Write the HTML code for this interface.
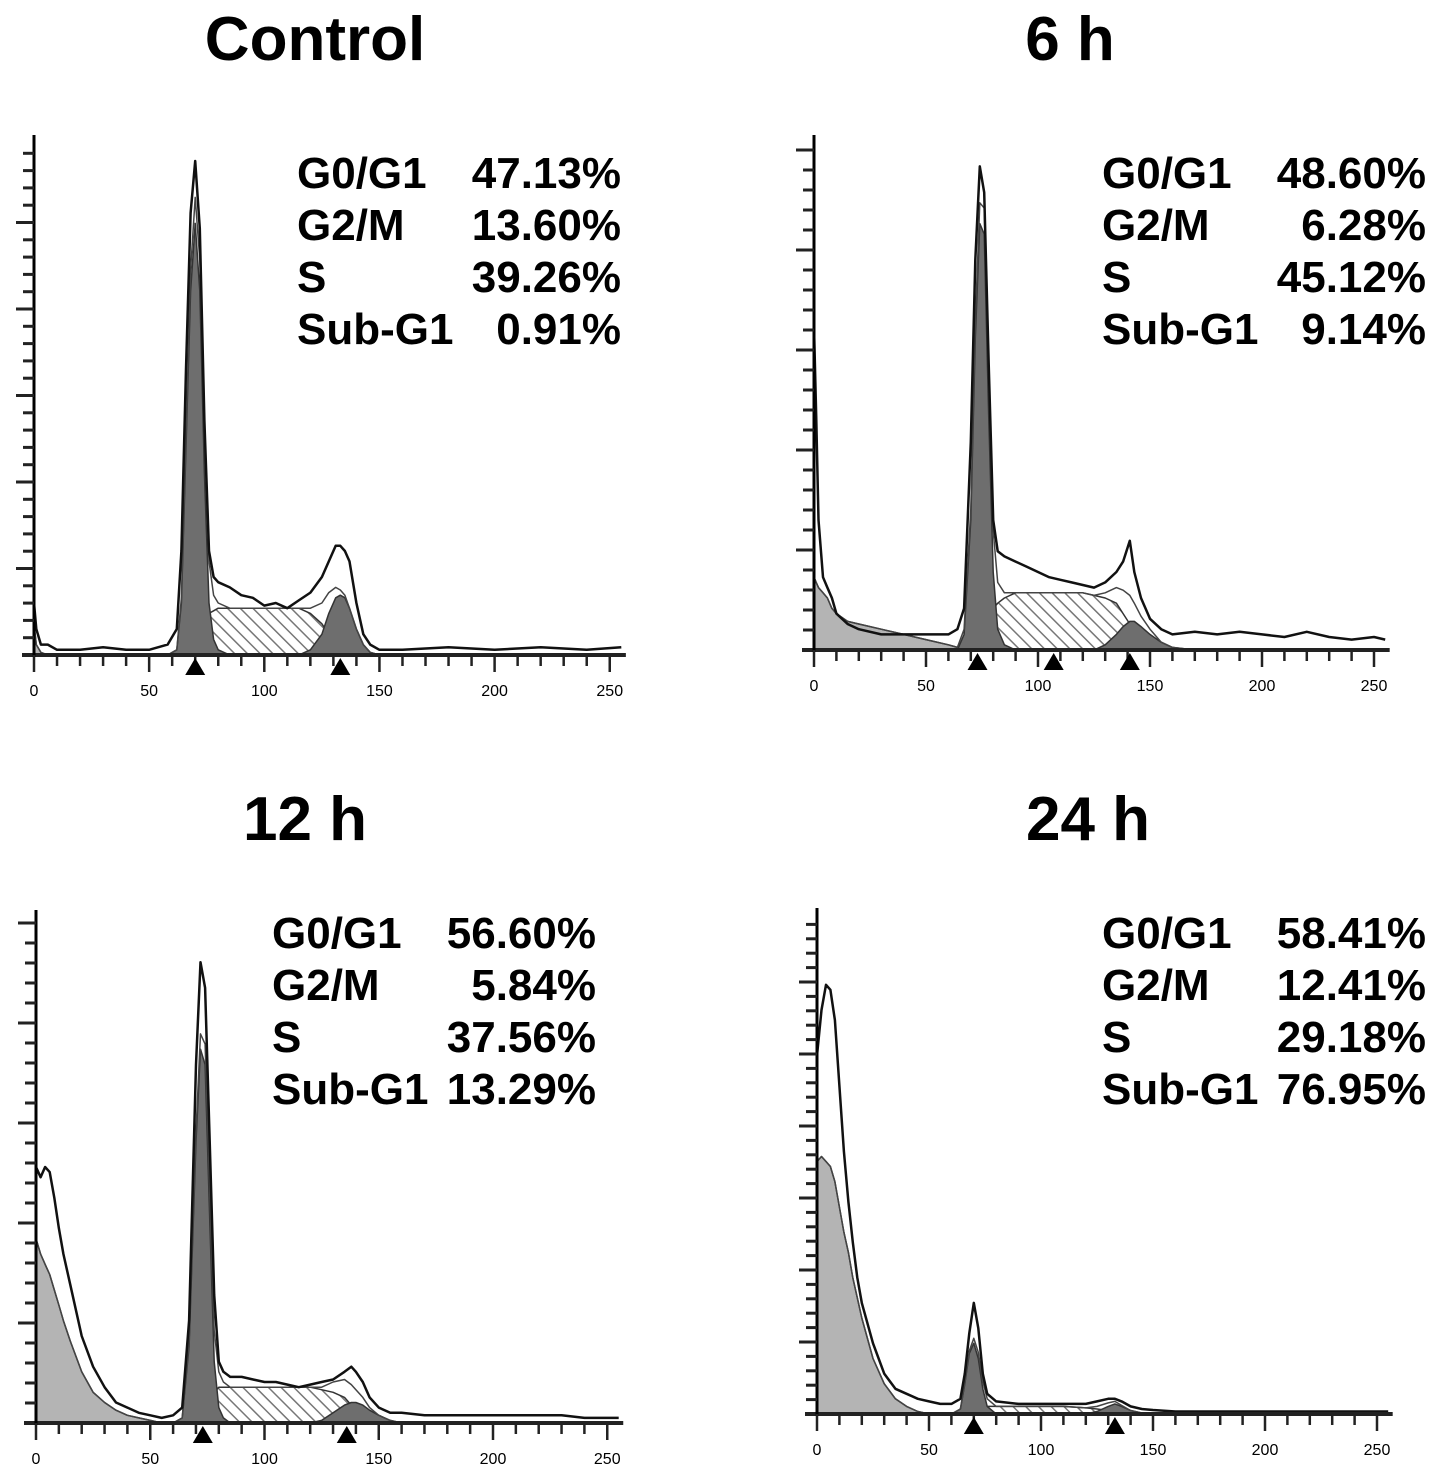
<!DOCTYPE html>
<html><head><meta charset="utf-8"><style>
html,body{margin:0;padding:0;background:#fff;}
svg{display:block;}
.title{font-family:"Liberation Sans",sans-serif;font-weight:bold;font-size:62px;fill:#000;}
.stat{font-family:"Liberation Sans",sans-serif;font-weight:bold;font-size:44px;fill:#000;}
.tick{font-family:"Liberation Sans",sans-serif;font-size:16px;fill:#000;}
</style></head><body>
<svg id="fig" width="1441" height="1481" viewBox="0 0 1441 1481" xmlns="http://www.w3.org/2000/svg">
<defs>
<pattern id="hatch" patternUnits="userSpaceOnUse" width="9" height="9" patternTransform="rotate(-45)">
<rect width="9" height="9" fill="#fff"/><line x1="0" y1="0" x2="0" y2="9" stroke="#777" stroke-width="3"/>
</pattern>
</defs>
</svg>
<script>
// ---- Control ----
const ctrlX=[0,1,3,6,10,20,30,40,50,58,62,64,66,68,70,72,74,76,78,80,85,90,95,100,105,110,115,120,125,128,131,133,135,137,140,143,146,150,160,180,200,220,240,255];
const ctrlTotal=[10,5,2,2,1,1,1.5,1,1,2,5,20,55,85,95,82,45,20,15,14,13,11.5,11,9.5,10,9,10.5,12,15,18,21,21,20,18,10,4,2,1,1,1.5,1,1.5,1,1.5];
const ctrlG1=[0,0,0,0,0,0,0,0,0,0,1,10,40,70,83,70,35,10,3,1,0,0,0,0,0,0,0,0,0,0,0,0,0,0,0,0,0,0,0,0,0,0,0,0];
const ctrlS=[0,0,0,0,0,0,0,0,0,0,0,1,2,4,5,6,7,8,8.5,9,9,9,9,9,9,9,9,8,6,4,2,1,0.5,0,0,0,0,0,0,0,0,0,0,0];
const ctrlG2=[0,0,0,0,0,0,0,0,0,0,0,0,0,0,0,0,0,0,0,0,0,0,0,0,0,0,0,1,4,8,11,11.5,11,9,5,2,0.5,0,0,0,0,0,0,0];
const ctrlSub=[6,2,0.5,0,0,0,0,0,0,0,0,0,0,0,0,0,0,0,0,0,0,0,0,0,0,0,0,0,0,0,0,0,0,0,0,0,0,0,0,0,0,0,0,0];
const ctrlMarks=[70,133];
const ctrlLabels=["G0/G1","G2/M","S","Sub-G1"];
const ctrlValues=["47.13%","13.60%","39.26%","0.91%"];
// ---- 6 h ----
const h6X=[0,1,2,4,6,8,10,15,20,30,40,50,60,64,67,70,72,74,76,78,80,82,85,90,95,100,105,110,115,120,125,130,135,138,141,143,146,150,155,160,170,180,190,200,210,220,230,240,250,255];
const h6Total=[62,45,25,14,12,10,7,5,4,3,3,3,3,4,8,40,75,93,88,55,25,19,18,17,16,15,14,13.5,13,12.5,12,13,15,17,21,15,10,6,4,3,3.5,3,3.5,3,2.5,3.5,2.5,2,2.5,2];
const h6G1=[0,0,0,0,0,0,0,0,0,0,0,0,0,0,3,25,60,82,80,45,15,4,1,0,0,0,0,0,0,0,0,0,0,0,0,0,0,0,0,0,0,0,0,0,0,0,0,0,0,0];
const h6S=[0,0,0,0,0,0,0,0,0,0,0,0,0,0,1,2,3,4,5,6,8,9,10,11,11,11,11,11,11,11,10.5,10,9,7,5,3.5,2,1,0,0,0,0,0,0,0,0,0,0,0,0];
const h6G2=[0,0,0,0,0,0,0,0,0,0,0,0,0,0,0,0,0,0,0,0,0,0,0,0,0,0,0,0,0,0,0,1,3,4.5,5.5,5.5,4.5,3,1.5,0.5,0,0,0,0,0,0,0,0,0,0];
const h6Sub=[14,13,12,11,10,8,7,5.5,5,4,3,2,1,0.5,0,0,0,0,0,0,0,0,0,0,0,0,0,0,0,0,0,0,0,0,0,0,0,0,0,0,0,0,0,0,0,0,0,0,0,0];
const h6Marks=[73,107,141];
const h6Labels=["G0/G1","G2/M","S","Sub-G1"];
const h6Values=["48.60%","6.28%","45.12%","9.14%"];
// ---- 12 h ----
const h12X=[0,2,4,6,8,10,12,15,20,25,30,35,40,45,50,55,60,64,67,70,72,74,76,78,80,82,85,90,95,100,105,110,115,120,125,130,135,138,140,143,146,150,155,160,170,180,190,200,210,220,230,240,250,255];
const h12Total=[50,48,50,49,44,38,33,27,17,11,7,4,3,2,1.5,1,1.5,3,20,70,90,85,55,25,12,10,9,9,8.5,8,8,7.5,7,7.5,8,8.5,10,11,10,8,5,3,2,2,1.5,1.5,1.5,1.5,1.5,1.5,1.5,1,1,1];
const h12G1=[0,0,0,0,0,0,0,0,0,0,0,0,0,0,0,0,0,1,15,55,73,70,40,12,3,1,0,0,0,0,0,0,0,0,0,0,0,0,0,0,0,0,0,0,0,0,0,0,0,0,0,0,0,0];
const h12S=[0,0,0,0,0,0,0,0,0,0,0,0,0,0,0,0,0,0,1,2,3,4,5,6,7,7,7,7,7,7,7,7,7,7,6.5,6,5,3.5,2.5,1.5,0.5,0,0,0,0,0,0,0,0,0,0,0,0,0];
const h12G2=[0,0,0,0,0,0,0,0,0,0,0,0,0,0,0,0,0,0,0,0,0,0,0,0,0,0,0,0,0,0,0,0,0,0,0.5,2,3.5,4,4,3.5,2.5,1.5,0.5,0,0,0,0,0,0,0,0,0,0,0];
const h12Sub=[36,33,31,29,26,23,20,16,10,6,4,2.5,1.5,1,0.5,0,0,0,0,0,0,0,0,0,0,0,0,0,0,0,0,0,0,0,0,0,0,0,0,0,0,0,0,0,0,0,0,0,0,0,0,0,0,0];
const h12Marks=[73,136];
const h12Labels=["G0/G1","G2/M","S","Sub-G1"];
const h12Values=["56.60%","5.84%","37.56%","13.29%"];
// ---- 24 h ----
const h24X=[0,2,4,6,8,10,12,14,16,18,20,25,30,35,40,45,50,55,60,64,66,68,70,72,74,76,80,90,100,110,120,125,130,133,136,140,145,150,160,180,200,220,240,255];
const h24Total=[71,80,85,84,78,65,52,42,34,27,22,14,8,5,4,3,2.5,2,2,3,8,16,22,17,8,4,2.5,2,2,2,2,2.5,3,3,2.5,1.5,1,0.8,0.5,0.5,0.5,0.5,0.5,0.5];
const h24G1=[0,0,0,0,0,0,0,0,0,0,0,0,0,0,0,0,0,0,0,1,6,12,14,11,5,1.5,0,0,0,0,0,0,0,0,0,0,0,0,0,0,0,0,0,0];
const h24S=[0,0,0,0,0,0,0,0,0,0,0,0,0,0,0,0,0,0,0,0,0,0.5,1,1.2,1.5,1.5,1.5,1.5,1.5,1.5,1.2,1,0.7,0.5,0.2,0,0,0,0,0,0,0,0,0];
const h24G2=[0,0,0,0,0,0,0,0,0,0,0,0,0,0,0,0,0,0,0,0,0,0,0,0,0,0,0,0,0,0,0,0.5,1.5,2,1.5,0.7,0.2,0,0,0,0,0,0,0];
const h24Sub=[50,51,50,49,46,41,36,32,27,23,19,11,6,3,1.5,0.5,0,0,0,0,0,0,0,0,0,0,0,0,0,0,0,0,0,0,0,0,0,0,0,0,0,0,0,0];
const h24Marks=[70,133];
const h24Labels=["G0/G1","G2/M","S","Sub-G1"];
const h24Values=["58.41%","12.41%","29.18%","76.95%"];
const xTicks=[0,50,100,150,200,250];

const NS="http://www.w3.org/2000/svg";
const svg=document.getElementById('fig');
function mk(tag,attrs,parent){const e=document.createElementNS(NS,tag);for(const k in attrs)e.setAttribute(k,attrs[k]);(parent||svg).appendChild(e);return e;}

function panel(cfg){
  const g=mk('g',{});
  
  
  const sx=v=>cfg.x0+v*cfg.k;
  const sy=v=>cfg.base-v/100*cfg.h;
  function area(vals,fill,stroke,nm){
    let d='M'+sx(cfg.X[0])+','+cfg.base;
    cfg.X.forEach((x,i)=>{d+=' L'+sx(x).toFixed(1)+','+sy(vals[i]).toFixed(1);});
    d+=' L'+sx(cfg.X[cfg.X.length-1])+','+cfg.base+' Z';
    const p=mk('path',{d:d,fill:fill,stroke:stroke,'stroke-width':1.5,'stroke-linejoin':'round'},g);
    
    
  }
  function line(vals,stroke,w,nm){
    let d='';
    cfg.X.forEach((x,i)=>{d+=(i?' L':'M')+sx(x).toFixed(1)+','+sy(vals[i]).toFixed(1);});
    const p=mk('path',{d:d,fill:'none',stroke:stroke,'stroke-width':w,'stroke-linejoin':'round'},g);
    
    
  }
  area(cfg.sub,'#b4b4b4','#333','sub-g1-area');
  area(cfg.s,'url(#hatch)','#333','s-phase-area');
  area(cfg.g1,'#6e6e6e','#333','g0-g1-area');
  area(cfg.g2,'#6e6e6e','#333','g2-m-area');
  const fit=cfg.X.map((x,i)=>cfg.sub[i]+cfg.g1[i]+cfg.s[i]+cfg.g2[i]);
  line(fit,'#444',1.5,'model-fit-line');
  line(cfg.total,'#111',2.5,'histogram-line');
  const xa=mk('line',{x1:cfg.x0-12,y1:cfg.base,x2:sx(257),y2:cfg.base,stroke:'#222','stroke-width':4},g);
  
  
  const ya=mk('line',{x1:cfg.x0,y1:cfg.top,x2:cfg.x0,y2:cfg.base+2,stroke:'#000','stroke-width':3},g);
  
  
  let n=0;
  for(let y=cfg.base-cfg.ts;y>cfg.top+4;y-=cfg.ts){n++;
    const t=mk('line',{x1:cfg.x0-(n%5==0?18:11),y1:y,x2:cfg.x0,y2:y,stroke:'#222','stroke-width':3},g);
    
    
  }
  for(let v=0;v<=250;v+=10){
    const t=mk('line',{x1:sx(v),y1:cfg.base,x2:sx(v),y2:cfg.base+(v%50==0?17:11),stroke:'#222','stroke-width':2.5},g);
    
    
  }
  xTicks.forEach(v=>{
    const t=mk('text',{x:sx(v),y:cfg.base+41,'text-anchor':'middle',class:'tick'},g);
    t.textContent=String(v);
    
    
  });
  cfg.marks.forEach(v=>{
    const c=sx(v),b=cfg.base+3;
    const p=mk('polygon',{points:`${c},${b} ${c-10},${b+17} ${c+10},${b+17}`,fill:'#000'},g);
    
    
  });
  const tt=mk('text',{x:cfg.tx,y:cfg.ty,'text-anchor':'middle',class:'title'},g);
  tt.textContent=cfg.title;
  
  
  cfg.labels.forEach((l,i)=>{
    const a=mk('text',{x:cfg.lx,y:cfg.ly+i*52,class:'stat'},g);
    a.textContent=l;
    
    
    const b=mk('text',{x:cfg.rx,y:cfg.ly+i*52,'text-anchor':'end',class:'stat'},g);
    b.textContent=cfg.values[i];
    
    
  });
}
panel({name:'panel-control',title:'Control',tx:315,ty:60,x0:34,k:2.303,base:655,top:135,h:520,ts:17.3,X:ctrlX,total:ctrlTotal,g1:ctrlG1,s:ctrlS,g2:ctrlG2,sub:ctrlSub,marks:ctrlMarks,labels:ctrlLabels,values:ctrlValues,lx:297,rx:621,ly:188});
panel({name:'panel-6h',title:'6 h',tx:1070,ty:60,x0:814,k:2.24,base:650,top:135,h:520,ts:20,X:h6X,total:h6Total,g1:h6G1,s:h6S,g2:h6G2,sub:h6Sub,marks:h6Marks,labels:h6Labels,values:h6Values,lx:1102,rx:1426,ly:188});
panel({name:'panel-12h',title:'12 h',tx:305,ty:840,x0:36,k:2.285,base:1423,top:910,h:512,ts:20,X:h12X,total:h12Total,g1:h12G1,s:h12S,g2:h12G2,sub:h12Sub,marks:h12Marks,labels:h12Labels,values:h12Values,lx:272,rx:596,ly:948});
panel({name:'panel-24h',title:'24 h',tx:1088,ty:840,x0:817,k:2.24,base:1414,top:908,h:505,ts:14.4,X:h24X,total:h24Total,g1:h24G1,s:h24S,g2:h24G2,sub:h24Sub,marks:h24Marks,labels:h24Labels,values:h24Values,lx:1102,rx:1426,ly:948});
</script>
</body></html>
